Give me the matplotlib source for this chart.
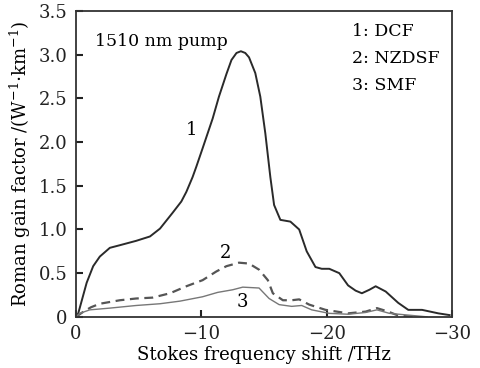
import matplotlib
matplotlib.use("Agg")
import matplotlib.pyplot as plt
from matplotlib.ticker import FuncFormatter

# Data (Stokes shift in THz, gain in W^-1 km^-1)
dcf_x = [0, -0.18, -0.85, -1.37, -1.9, -2.7, -3.5, -4.8, -5.9, -6.7, -7.7, -8.4, -8.8, -9.3,
         -9.6, -10.1, -10.9, -11.4, -12.0, -12.4, -12.8, -13.15, -13.5, -13.8, -14.3, -14.7,
         -15.1, -15.5, -15.8, -16.3, -17.1, -17.8, -18.4, -19.1, -19.6, -20.2, -21.0, -21.7,
         -22.3, -22.8, -23.4, -23.9, -24.7, -25.7, -26.5, -27.6, -28.9, -29.8]
dcf_y = [0, 0.04, 0.39, 0.58, 0.69, 0.79, 0.82, 0.87, 0.92, 1.01, 1.19, 1.32, 1.43, 1.60,
         1.72, 1.93, 2.27, 2.52, 2.78, 2.94, 3.02, 3.04, 3.02, 2.97, 2.79, 2.52,
         2.10, 1.60, 1.28, 1.11, 1.09, 1.00, 0.75, 0.57, 0.55, 0.55, 0.50, 0.36,
         0.30, 0.27, 0.31, 0.35, 0.29, 0.16, 0.08, 0.08, 0.04, 0.02]

nz_x = [0, -0.6, -1.2, -1.9, -3.5, -4.8, -6.1, -7.5, -8.8, -10.1, -11.2, -12.0, -12.5, -13.0,
        -13.8, -14.6, -15.3, -15.7, -16.5, -17.2, -17.8, -18.6, -19.9, -21.7, -23.1, -24.0,
        -24.9, -25.7, -27.0]
nz_y = [0, 0.06, 0.11, 0.15, 0.19, 0.21, 0.22, 0.27, 0.35, 0.42, 0.52, 0.58, 0.60, 0.62,
        0.61, 0.54, 0.42, 0.27, 0.19, 0.19, 0.20, 0.14, 0.08, 0.04, 0.06, 0.10,
        0.06, 0.015, 0.0]

smf_x = [0, -0.3, -1.1, -2.7, -4.8, -6.7, -8.3, -10.1, -11.3, -12.5, -13.3, -14.6, -15.4,
         -16.2, -17.2, -18.0, -18.8, -20.2, -21.7, -23.1, -24.0, -25.0, -26.5, -28.0]
smf_y = [0, 0.04, 0.08, 0.10, 0.13, 0.15, 0.18, 0.23, 0.28, 0.31, 0.34, 0.33, 0.21,
         0.14, 0.12, 0.13, 0.08, 0.04, 0.03, 0.05, 0.08, 0.04, 0.02, 0.0]

x_ticks = [0, -10, -20, -30]
y_ticks = [0, 0.5, 1.0, 1.5, 2.0, 2.5, 3.0, 3.5]
legend_lines = ["1: DCF", "2: NZDSF", "3: SMF"]

plt.rcParams['font.family'] = ['DejaVu Serif']
plt.rcParams['mathtext.fontset'] = 'dejavuserif'

fig = plt.figure(figsize=(4.81, 3.68), dpi=100)
ax = fig.add_axes([0.158, 0.139, 0.782, 0.831])

ax.plot(dcf_x, dcf_y, color='#2a2a2a', lw=1.4, solid_joinstyle='round')
ax.plot(nz_x, nz_y, color='#555555', lw=1.6, ls=(0, (4, 2.5)))
ax.plot(smf_x, smf_y, color='#777777', lw=1.0)

ax.set_xlim(0, -30)
ax.set_ylim(0, 3.5)
ax.set_xticks(x_ticks)
ax.set_yticks(y_ticks)
ax.yaxis.set_major_formatter(FuncFormatter(lambda v, p: "0" if v == 0 else f"{v:.1f}"))
ax.xaxis.set_major_formatter(FuncFormatter(lambda v, p: "0" if v == 0 else f"\u2212{abs(v):.0f}"))
ax.tick_params(direction='in', labelsize=13, length=5, width=1.5, colors='#222222', pad=6)
for s in ax.spines.values():
    s.set_linewidth(1.3)
    s.set_color('#333333')

ax.set_xlabel("Stokes frequency shift /THz", fontsize=13, labelpad=2)
ax.set_ylabel(r"Roman gain factor /(W$^{-1}$$\cdot$km$^{-1}$)", fontsize=13, labelpad=4)

ax.text(-1.5, 3.15, "1510 nm pump", fontsize=12.5, ha='left', va='center')
for i, t in enumerate(legend_lines):
    ax.text(-22.0, 3.27 - 0.31 * i, t, fontsize=12.5, ha='left', va='center')

ax.text(-9.2, 2.14, "1", fontsize=13, ha='center', va='center')
ax.text(-11.9, 0.73, "2", fontsize=13, ha='center', va='center')
ax.text(-13.25, 0.17, "3", fontsize=13, ha='center', va='center')

fig.savefig("out.png", dpi=100)
